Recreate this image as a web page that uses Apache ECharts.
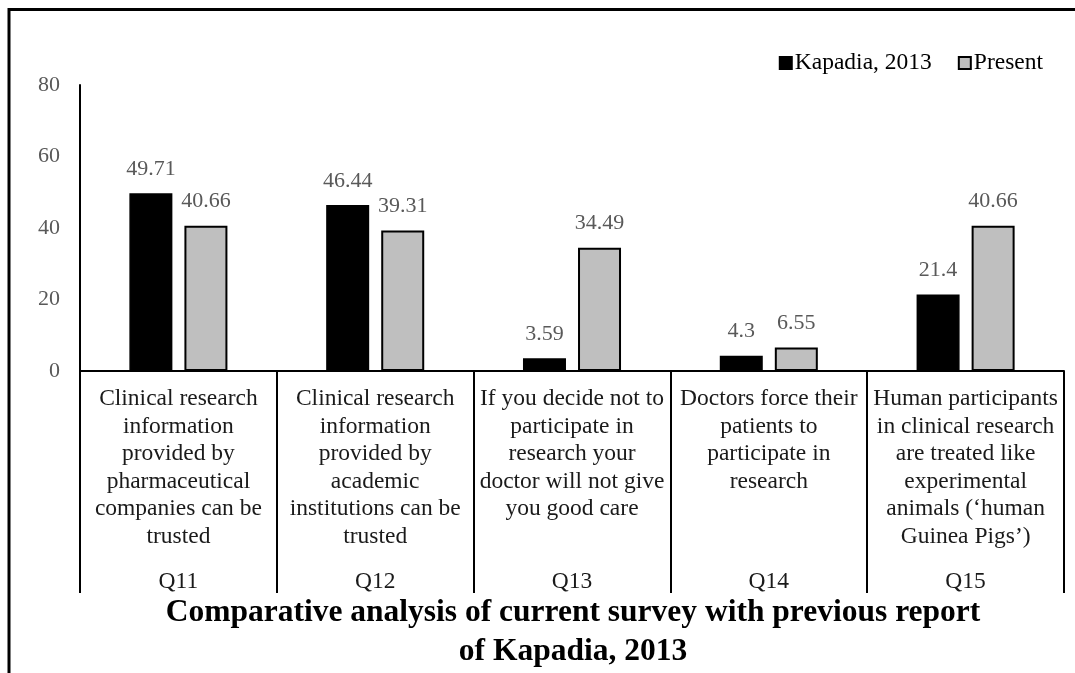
<!DOCTYPE html>
<html>
<head>
<meta charset="utf-8">
<script src="https://cdn.jsdelivr.net/npm/echarts@6/dist/echarts.min.js"></script>
<style>
html,body{margin:0;padding:0;background:#fff;}
#c{width:1075px;height:673px;}
</style>
</head>
<body>
<div id="c"></div>
<script>
const categories = [
  "Clinical research\ninformation\nprovided by\npharmaceutical\ncompanies can be\ntrusted",
  "Clinical research\ninformation\nprovided by\nacademic\ninstitutions can be\ntrusted",
  "If you decide not to\nparticipate in\nresearch your\ndoctor will not give\nyou good care",
  "Doctors force their\npatients to\nparticipate in\nresearch",
  "Human participants\nin clinical research\nare treated like\nexperimental\nanimals (\u2018human\nGuinea Pigs\u2019)"
];
const questionCodes = ["Q11", "Q12", "Q13", "Q14", "Q15"];
const kapadia2013 = [49.71, 46.44, 3.59, 4.3, 21.4];
const present = [40.66, 39.31, 34.49, 6.55, 40.66];
const yTicks = { min: 0, max: 80, interval: 20 };
const seriesNames = ["Kapadia, 2013", "Present"];
const titleText = "Comparative analysis of current survey with previous report\nof Kapadia, 2013";

const FONT = "'Liberation Serif', 'Times New Roman', serif";
const chart = echarts.init(document.getElementById('c'));

const labelStyle = {
  show: true,
  position: 'top',
  distance: 13,
  color: '#595959',
  fontFamily: FONT,
  fontSize: 22
};

chart.setOption({
  animation: false,
  backgroundColor: '#fff',
  title: {
    text: titleText,
    left: 568,
    top: 588,
    textAlign: 'center',
    textStyle: {
      fontFamily: FONT,
      fontWeight: 'bold',
      fontSize: 31.5,
      lineHeight: 39,
      color: '#000'
    }
  },
  legend: {
    data: seriesNames,
    right: 27,
    top: 46,
    itemWidth: 12,
    itemHeight: 12,
    itemGap: 26,
    icon: 'rect',
    textStyle: { fontFamily: FONT, fontSize: 23.5, color: '#000', padding: [0, 0, 0, -2] }
  },
  grid: { left: 80, right: 11, top: 85, bottom: 302, containLabel: false },
  xAxis: [
    {
      type: 'category',
      data: categories,
      position: 'bottom',
      axisLine: { show: true, lineStyle: { color: '#000', width: 2 } },
      axisTick: { show: true, interval: 0, length: 222, lineStyle: { color: '#000', width: 2 } },
      axisLabel: {
        interval: 0,
        margin: 14,
        color: '#1a1a1a',
        fontFamily: FONT,
        fontSize: 23.5,
        lineHeight: 27.6,
        align: 'center',
        verticalAlign: 'top'
      },
      splitLine: { show: false }
    },
    {
      type: 'category',
      data: questionCodes,
      position: 'bottom',
      axisLine: { show: false },
      axisTick: { show: false },
      axisLabel: {
        interval: 0,
        margin: 199,
        color: '#1a1a1a',
        fontFamily: FONT,
        fontSize: 23.5,
        verticalAlign: 'top'
      },
      splitLine: { show: false }
    }
  ],
  yAxis: {
    type: 'value',
    min: yTicks.min,
    max: yTicks.max,
    interval: yTicks.interval,
    axisLine: { show: true, lineStyle: { color: '#000', width: 2 } },
    axisTick: { show: false },
    splitLine: { show: false },
    axisLabel: { margin: 20, color: '#595959', fontFamily: FONT, fontSize: 22 }
  },
  series: [
    {
      name: seriesNames[0],
      type: 'bar',
      data: kapadia2013,
      barWidth: 43,
      barGap: '28%',
      itemStyle: { color: '#000', borderColor: '#000', borderWidth: 1.5 },
      label: labelStyle
    },
    {
      name: seriesNames[1],
      type: 'bar',
      data: present,
      barWidth: 43,
      barGap: '28%',
      itemStyle: { color: '#bfbfbf', borderColor: '#000', borderWidth: 2 },
      label: labelStyle
    }
  ],
  graphic: [
    {
      type: 'rect',
      shape: { x: 9, y: 9.5, width: 1100, height: 700 },
      style: { fill: 'none', stroke: '#000', lineWidth: 3 },
      silent: true,
      z: 100
    }
  ]
});
</script>
</body>
</html>
